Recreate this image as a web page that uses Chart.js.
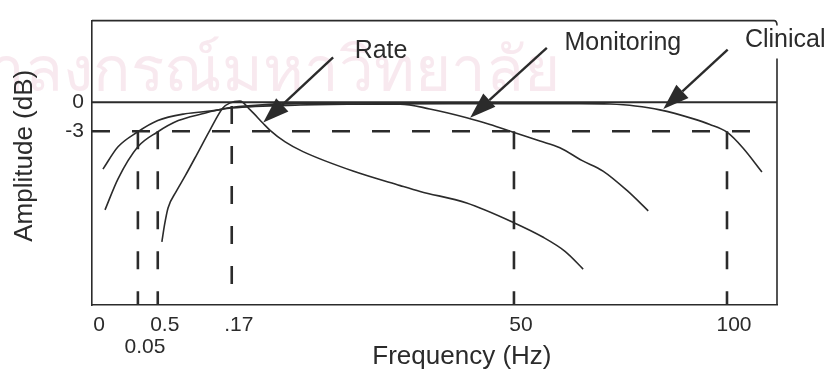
<!DOCTYPE html>
<html>
<head>
<meta charset="utf-8">
<title>ECG filter bandwidths</title>
<script src="https://cdn.jsdelivr.net/npm/chart.js@4.4.1/dist/chart.umd.min.js"></script>
<style>
  html, body { margin: 0; padding: 0; background: #fff; }
  #wrap { width: 833px; height: 375px; }
</style>
</head>
<body>
<div id="wrap"><canvas id="filterChart" width="833" height="375"></canvas></div>
<script>
// --- data ---
// the frequency axis is a sketch (not to scale), so x is in axis units 0..100
const tickPos = [0, 6.7, 9.6, 20.4, 61.6, 92.7];
const tickLabels = ['0', ['', '0.05'], '0.5', '.17', '50', '100'];
const dbTicks = [0, -3];

const clinicalX  = [1.6, 3.8, 6.6, 9.6, 13.6, 17.5, 20.4, 30.4, 52.3, 71.2, 75.6, 79.3, 82.9, 87.7, 90.2, 92.7, 95.0, 97.8];
const clinicalDb = [-6.9, -4.6, -3.1, -1.9, -1.2, -0.9, -0.6, -0.3, -0.15, -0.15, -0.2, -0.4, -0.8, -1.7, -2.3, -3.1, -4.7, -7.2];

const monitorX  = [1.9, 3.8, 6.7, 9.5, 12.6, 16.1, 19.0, 22.3, 30.4, 39.1, 45.0, 49.3, 54.7, 58.1, 61.5, 65.4, 68.3, 71.5, 74.6, 78.1, 81.2];
const monitorDb = [-11.1, -7.9, -4.6, -3.1, -1.9, -1.2, -0.7, -0.4, -0.15, -0.2, -0.2, -0.7, -1.6, -2.3, -3.1, -4.0, -4.7, -6.0, -7.1, -9.1, -11.2];

const rateX  = [10.2, 10.6, 11.1, 12.3, 13.6, 15.3, 17.2, 19.1, 20.1, 21.6, 23.1, 25.0, 26.0, 28.2, 30.8, 38.1, 45.0, 47.9, 54.7, 61.5, 65.8, 69.1, 71.7];
const rateDb = [-14.4, -12.6, -10.9, -9.2, -7.6, -5.4, -2.9, -0.6, -0.1, 0.1, -0.8, -2.2, -2.9, -4.1, -5.1, -7.1, -8.6, -9.2, -10.4, -12.4, -13.9, -15.4, -17.2];

// cut-off markers (dashed drop lines)
const cutoffPos = [6.7, 9.6, 20.4, 61.6, 92.7];
const cutoffTop = [-3, -3, -0.4, -3, -3];

// arrow callouts
const calloutNames = ['Rate', 'Monitoring', 'Clinical'];
const calloutTail  = [[35.2, 4.6], [66.4, 5.6], [92.8, 5.4]];
const calloutTip   = [[25.0, -2.1], [55.2, -1.6], [83.4, -0.7]];
const calloutText  = [[42.2, 5.3], [77.5, 6.1], [101.2, 6.4]];

const ink = '#2b2b2b';
const yMin = -20.9, yMax = 8.4;

Chart.defaults.font.family = '"Liberation Sans", Arial, sans-serif';
Chart.defaults.color = ink;

function pts(xs, ys) {
    return xs.map((x, i) => ({ x: x, y: ys[i] }));
}

function curve(xs, ys) {
    return {
        data: pts(xs, ys),
        showLine: true,
        borderColor: ink,
        borderWidth: 1.6,
        pointRadius: 0,
        cubicInterpolationMode: 'monotone',
        fill: false
    };
}

const datasets = [
    // 0 dB reference
    { data: [{ x: 0, y: 0 }, { x: 100, y: 0 }], showLine: true, borderColor: ink, borderWidth: 2, pointRadius: 0 },
    // -3 dB reference
    { data: [{ x: 0, y: -3 }, { x: 97.1, y: -3 }], showLine: true, borderColor: ink, borderWidth: 2.6, borderDash: [18, 22], pointRadius: 0 },
    curve(clinicalX, clinicalDb),
    curve(monitorX, monitorDb),
    curve(rateX, rateDb)
];

cutoffPos.forEach((x, i) => {
    datasets.push({
        data: [{ x: x, y: cutoffTop[i] }, { x: x, y: yMin }],
        showLine: true, borderColor: ink, borderWidth: 2.6, borderDash: [18, 22], pointRadius: 0
    });
});

// --- extra drawing: frame, watermark, arrows, axis titles ---
const overlay = {
    id: 'overlay',
    beforeDraw(chart) {
        const c = chart.ctx;
        c.save();
        c.fillStyle = '#fff';
        c.fillRect(0, 0, chart.width, chart.height);
        // faint library stamp behind the figure
        c.fillStyle = 'rgba(225, 165, 188, 0.24)';
        c.font = '62px "Noto Sans", sans-serif';
        c.textBaseline = 'alphabetic';
        c.fillText('จุฬาลงกรณ์มหาวิทยาลัย', -88, 91);
        c.restore();
    },
    afterDatasetsDraw(chart) {
        const c = chart.ctx;
        const xs = chart.scales.x, ys = chart.scales.y;
        const a = chart.chartArea;
        c.save();
        c.strokeStyle = ink;
        c.fillStyle = ink;
        c.lineWidth = 1.6;

        // top and right frame
        c.beginPath();
        c.moveTo(a.left, a.top);
        c.lineTo(a.right - 3, a.top);
        c.quadraticCurveTo(a.right, a.top, a.right, a.top + 5);
        c.moveTo(a.right, a.top + 38);
        c.lineTo(a.right, a.bottom);
        c.stroke();

        // callouts
        c.font = '25px "Liberation Sans", Arial, sans-serif';
        c.textAlign = 'center';
        c.textBaseline = 'middle';
        calloutNames.forEach((name, i) => {
            const tx = xs.getPixelForValue(calloutTail[i][0]);
            const ty = ys.getPixelForValue(calloutTail[i][1]);
            const hx = xs.getPixelForValue(calloutTip[i][0]);
            const hy = ys.getPixelForValue(calloutTip[i][1]);
            const ang = Math.atan2(hy - ty, hx - tx);
            const len = 26, half = 9;
            const bx = hx - len * Math.cos(ang), by = hy - len * Math.sin(ang);
            c.lineWidth = 2.4;
            c.beginPath();
            c.moveTo(tx, ty);
            c.lineTo(bx, by);
            c.stroke();
            c.beginPath();
            c.moveTo(hx, hy);
            c.lineTo(bx + half * Math.sin(ang), by - half * Math.cos(ang));
            c.lineTo(bx - half * Math.sin(ang), by + half * Math.cos(ang));
            c.closePath();
            c.fill();
            c.fillText(name, xs.getPixelForValue(calloutText[i][0]), ys.getPixelForValue(calloutText[i][1]));
        });

        // axis titles
        c.font = '26px "Liberation Sans", Arial, sans-serif';
        c.fillText('Frequency (Hz)', xs.getPixelForValue(54), a.bottom + 52);
        c.translate(25, (a.top + a.bottom) / 2 - 7);
        c.rotate(-Math.PI / 2);
        c.fillText('Amplitude (dB)', 0, 0);
        c.restore();
    }
};

new Chart(document.getElementById('filterChart'), {
    type: 'scatter',
    data: { datasets: datasets },
    plugins: [overlay],
    options: {
        responsive: false,
        animation: false,
        layout: { padding: { top: 12, right: 56, left: 0, bottom: 0 } },
        plugins: {
            legend: { display: false },
            tooltip: { enabled: false }
        },
        scales: {
            x: {
                type: 'linear',
                min: 0,
                max: 100,
                grid: { display: false, drawTicks: false },
                border: { display: true, color: ink, width: 1.6 },
                afterBuildTicks: (scale) => { scale.ticks = tickPos.map(v => ({ value: v })); },
                afterFit: (scale) => { scale.height = 70; },
                ticks: {
                    padding: 9,
                    labelOffset: 7,
                    maxRotation: 0,
                    autoSkip: false,
                    font: { size: 21, lineHeight: 1.05 },
                    callback: (val, idx) => tickLabels[idx]
                }
            },
            y: {
                type: 'linear',
                min: yMin,
                max: yMax,
                grid: { display: false, drawTicks: false },
                border: { display: true, color: ink, width: 1.6 },
                afterBuildTicks: (scale) => { scale.ticks = dbTicks.map(v => ({ value: v })); },
                afterFit: (scale) => { scale.width = 92; },
                ticks: {
                    padding: 8,
                    font: { size: 21 },
                    callback: (val) => String(val)
                }
            }
        }
    }
});
</script>
</body>
</html>
